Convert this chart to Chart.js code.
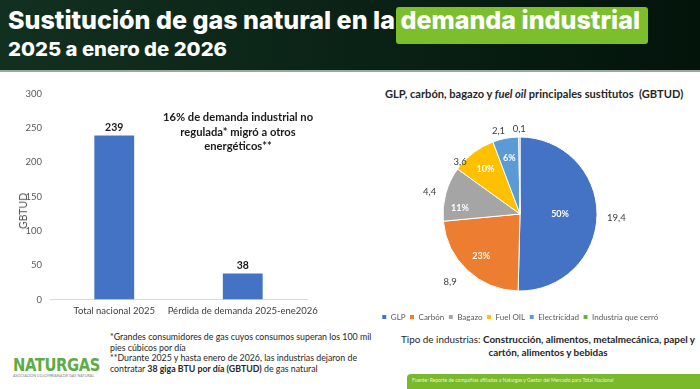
<!DOCTYPE html>
<html><head><meta charset="utf-8">
<script src="https://cdn.jsdelivr.net/npm/chart.js@4.4.1/dist/chart.umd.min.js"></script>
<style>
html,body{margin:0;padding:0;background:#fff;}
body{width:700px;height:389px;position:relative;overflow:hidden;font-family:Lato,"Open Sans",sans-serif;}
#header{position:absolute;left:0;top:0;width:700px;height:70px;background:linear-gradient(90deg,#12301f 0%,#0b2417 45%,#03140b 100%);border-bottom:2px solid #9aa8a0;}
.t{position:absolute;left:8px;color:#fff;font-family:Inter,"Open Sans",sans-serif;font-weight:800;white-space:nowrap;transform-origin:0 0;}
#t1{top:5px;font-size:25px;}
#t2{top:38px;font-size:19px;}
#hl{position:absolute;left:396px;top:7px;width:252px;height:37px;background:#7cbf2c;border-radius:3px;}
.abs{position:absolute;white-space:nowrap;}
#barc{position:absolute;left:0;top:80px;}
#piec{position:absolute;left:360px;top:100px;}
#ann{left:160px;top:110px;width:156px;text-align:center;font-weight:700;font-size:11.2px;line-height:14.5px;color:#1a1a1a;white-space:normal;}
#ytitle{left:23px;top:211px;font-size:10.5px;color:#595959;transform:translate(-50%,-50%) rotate(-90deg);}
#ptitle{left:385px;top:87px;font-weight:700;font-size:11.1px;color:#262626;}
#notes{left:110px;top:332px;font-size:8.8px;line-height:10.7px;color:#262626;}
#tipo{left:398px;top:333px;width:300px;text-align:center;font-size:9.9px;line-height:12.5px;color:#262626;white-space:normal;}
#logo{left:13px;top:354px;font-family:"DejaVu Sans",sans-serif;font-weight:700;font-size:18px;color:#5fab45;letter-spacing:-0.5px;transform-origin:0 0;}
#logosub{left:13px;top:373px;font-size:3.6px;color:#777;letter-spacing:0.1px;}
#foot{left:407px;top:374px;width:293px;height:15px;background:#7ab929;border-top-left-radius:4px;}
#foottxt{left:412px;top:377px;font-size:5px;color:#e8f5d0;}
</style></head>
<body>
<div id="header"></div>
<div id="hl"></div>
<div class="t" id="t1">Sustitución de gas natural en la demanda industrial</div>
<div class="t" id="t2">2025 a enero de 2026</div>

<canvas id="barc" width="320" height="243"></canvas>
<div class="abs" id="ann">16% de demanda industrial no regulada* migró a otros energéticos**</div>
<div class="abs" id="ytitle">GBTUD</div>

<div class="abs" id="ptitle">GLP, carbón, bagazo y <i>fuel oil</i> principales sustitutos &nbsp;(GBTUD)</div>
<canvas id="piec" width="320" height="231"></canvas>

<div class="abs" id="logo">NATURGAS</div>
<div class="abs" id="logosub">ASOCIACIÓN COLOMBIANA DE GAS NATURAL</div>
<div class="abs" id="notes">*Grandes consumidores de gas cuyos consumos superan los 100 mil<br>pies cúbicos por día<br>**Durante 2025 y hasta enero de 2026, las industrias dejaron de<br>contratar <b>38 giga BTU por día (GBTUD)</b> de gas natural</div>
<div class="abs" id="tipo">Tipo de industrias: <b>Construcción, alimentos, metalmecánica, papel y cartón, alimentos y bebidas</b></div>
<div class="abs" id="foot"></div>
<div class="abs" id="foottxt">Fuente: Reporte de compañías afiliadas a Naturgas y Gestor del Mercado para Total Nacional</div>

<script>
// ---- data ----
const barCategories = ["Total nacional 2025", "Pérdida de demanda 2025-ene2026"];
const barValues = [239, 38];
const yTicks = [0, 50, 100, 150, 200, 250, 300];

const pieCategories = ["GLP", "Carbón", "Bagazo", "Fuel OIL", "Electricidad", "Industria que cerró"];
const pieValues = [19.4, 8.9, 4.4, 3.6, 2.1, 0.1];
const piePctLabels = ["50%", "23%", "11%", "10%", "6%", ""];
const pieValueLabels = ["19,4", "8,9", "4,4", "3,6", "2,1", "0,1"];
const pieColors = ["#4472c4", "#ed7d31", "#a5a5a5", "#ffc000", "#5b9bd5", "#70ad47"];

// fit text widths
function fitW(id, w){const e=document.getElementById(id);const m=e.getBoundingClientRect().width;e.style.transform='scaleX('+(w/m)+')';}
fitW('t1', 632); fitW('t2', 219); fitW('logo', 87);

const FONT = "Lato, 'Open Sans', sans-serif";

const barLabelPlugin = {
  id: 'barLabels',
  afterDatasetsDraw(chart){
    const ctx = chart.ctx;
    const meta = chart.getDatasetMeta(0);
    ctx.save();
    ctx.font = "bold 10.5px " + FONT;
    ctx.fillStyle = "#1a1a1a";
    ctx.textAlign = "center";
    ctx.textBaseline = "bottom";
    meta.data.forEach((el, i) => {
      ctx.fillText(String(barValues[i]), el.x, el.y - 3);
    });
    ctx.restore();
  }
};

new Chart(document.getElementById('barc'), {
  type: 'bar',
  data: { labels: barCategories, datasets: [{ data: barValues, backgroundColor: "#4472c4", barPercentage: 0.31, categoryPercentage: 1 }] },
  options: {
    responsive: false, animation: false,
    layout: { padding: { left: 0, right: 13, top: 6, bottom: 0 } },
    plugins: { legend: { display: false }, tooltip: { enabled: false } },
    scales: {
      y: {
        min: 0, max: 300,
        afterBuildTicks(s){ s.ticks = yTicks.map(v => ({ value: v })); },
        afterFit(s){ s.width = 50; },
        grid: { display: false, drawTicks: false },
        border: { display: false },
        ticks: { color: "#595959", font: { size: 9.5, family: FONT }, padding: 8 }
      },
      x: {
        afterFit(s){ s.paddingLeft = 0; s.paddingRight = 0; },
        grid: { display: false, drawTicks: false },
        border: { display: true, color: "#d9d9d9" },
        ticks: { color: "#404040", font: { size: 9.5, family: FONT }, padding: 6, maxRotation: 0, autoSkip: false }
      }
    }
  },
  plugins: [barLabelPlugin]
});

const pieLabelPlugin = {
  id: 'pieLabels',
  afterDatasetsDraw(chart, args, opts){
    const ctx = chart.ctx;
    const meta = chart.getDatasetMeta(0);
    const outNudge = opts.outNudge || {}, inNudge = opts.inNudge || {};
    ctx.save();
    meta.data.forEach((arc, i) => {
      const mid = (arc.startAngle + arc.endAngle) / 2;
      const cx = arc.x, cy = arc.y, r = arc.outerRadius;
      const dx = Math.cos(mid), dy = Math.sin(mid);
      if (piePctLabels[i]) {
        const f = (arc.endAngle - arc.startAngle) > Math.PI * 0.8 ? 0.52 : 0.74;
        const n = inNudge[i] || [0, 0];
        ctx.font = "bold 9px " + FONT;
        ctx.fillStyle = "#ffffff";
        ctx.textAlign = "center"; ctx.textBaseline = "middle";
        ctx.fillText(piePctLabels[i], cx + dx * r * f + n[0], cy + dy * r * f + n[1]);
      }
      ctx.font = "9.5px " + FONT;
      ctx.fillStyle = "#404040";
      ctx.textAlign = "center"; ctx.textBaseline = "middle";
      const w = ctx.measureText(pieValueLabels[i]).width;
      const n = outNudge[i] || [0, 0];
      const x = cx + dx * (r + 10) + dx * w / 2 + n[0];
      const y = cy + dy * (r + 4) + dy * 4 + n[1];
      ctx.fillText(pieValueLabels[i], x, y);
    });
    ctx.restore();
  }
};

new Chart(document.getElementById('piec'), {
  type: 'pie',
  data: { labels: pieCategories, datasets: [{ data: pieValues, backgroundColor: pieColors, borderColor: "#ffffff", borderWidth: 1, radius: 77 }] },
  options: {
    responsive: false, animation: false,
    layout: { padding: { top: 19, bottom: 0 } },
    plugins: {
      tooltip: { enabled: false },
      pieLabels: { outNudge: { 0: [0, 3], 1: [-6, 6], 3: [-3, 15], 4: [-4, 0] }, inNudge: { 2: [-5, 9] } },
      legend: {
        position: 'bottom',
        labels: { boxWidth: 5, boxHeight: 5, padding: 4, color: "#595959", font: { size: 8, family: FONT } }
      }
    }
  },
  plugins: [pieLabelPlugin]
});
</script>
</body></html>
